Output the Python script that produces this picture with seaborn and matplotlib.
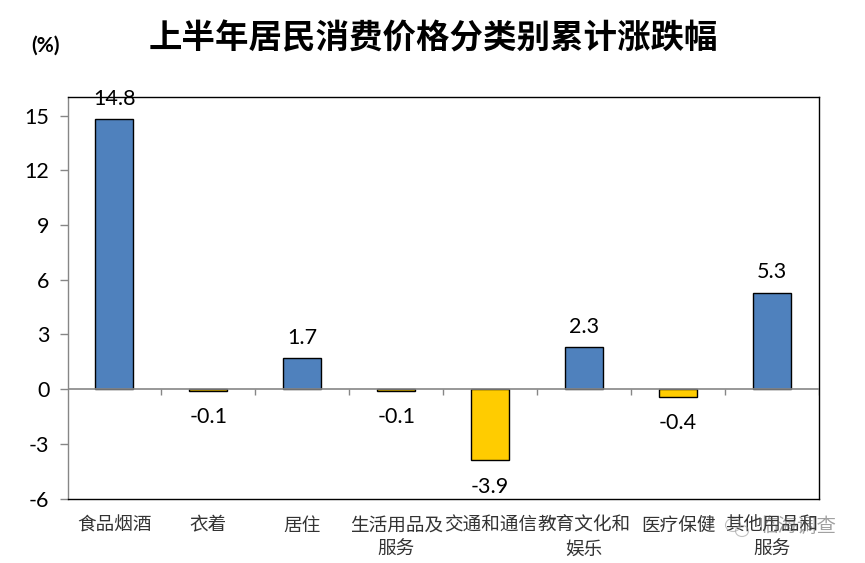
import pandas as pd
import seaborn as sns
import matplotlib.pyplot as plt
from matplotlib.patches import Ellipse

categories = ["食品烟酒", "衣着", "居住", "生活用品及\n服务", "交通和通信", "教育文化和\n娱乐", "医疗保健", "其他用品和\n服务"]
values = [14.8, -0.1, 1.7, -0.1, -3.9, 2.3, -0.4, 5.3]
yticks = [-6, -3, 0, 3, 6, 9, 12, 15]
title = "上半年居民消费价格分类别累计涨跌幅"
watermark = "临海调查"

sns.set_theme(style="white")
plt.rcParams['font.family'] = ['Noto Sans CJK SC', 'DejaVu Sans']
plt.rcParams['axes.unicode_minus'] = False
num_font = ['Lato', 'DejaVu Sans']

df = pd.DataFrame({"category": categories, "value": values})
df["sign"] = ["up" if v > 0 else "down" for v in values]

W, H = 865, 563
fig = plt.figure(figsize=(W / 100, H / 100), dpi=100)
ax = fig.add_axes([67.5 / W, 1 - 498.7 / H, (819 - 67.5) / W, (498.7 - 97.3) / H])

sns.barplot(data=df, x="category", y="value", hue="sign", hue_order=["up", "down"],
            palette={"up": "#4F81BD", "down": "#FFCC00"}, saturation=1, dodge=False, width=0.405,
            edgecolor="black", linewidth=1, legend=False, ax=ax, zorder=2)

ax.set_xlim(-0.5, 7.5)
ax.set_ylim(-6, 16)
ax.set_xlabel("")
ax.set_ylabel("")
ax.set_yticks(yticks)
ax.set_yticklabels([str(t) for t in yticks], fontsize=15.5, color="black", family=num_font)
ax.tick_params(axis="y", length=6, width=1, color="#868686", pad=7, left=True)

# tick marks sit on the zero line between the groups
ax.set_xticks(range(len(categories)))
ax.set_xticklabels(categories, fontsize=13.4, color="#333333", linespacing=1.45, va="top")
ax.tick_params(axis="x", length=0, pad=13)
ax.vlines([i + 0.5 for i in range(8)], -0.3, 0, color="#868686", lw=1, zorder=1)
ax.axhline(0, color="#868686", lw=1.2, zorder=3)

ax.spines["left"].set_color("#868686")
for s in ["top", "bottom", "right"]:
    ax.spines[s].set_color("black")
for s in ax.spines.values():
    s.set_linewidth(1)

for i, v in enumerate(values):
    off = 0.58 if v > 0 else -0.9
    ax.text(i, v + off, f"{v}", ha="center", va="bottom" if v > 0 else "top", fontsize=15.5,
            color="black", zorder=1, family=num_font)

fig.text(433.5 / W, 1 - 39 / H, title, ha="center", va="center", fontsize=24.1, fontweight="bold", color="black")
fig.text(45 / W, 1 - 46 / H, "(%)", ha="center", va="center", fontsize=15, fontweight="bold", color="black", family=num_font)

# faint account watermark over the last label
fig.text(797 / W, 1 - 526 / H, watermark, ha="center", va="center", fontsize=14, color="#555555", alpha=0.55)
fig.add_artist(Ellipse((733 / W, 1 - 525 / H), 15 / W, 13 / H, transform=fig.transFigure,
                       fill=False, edgecolor="#999999", lw=0.8, alpha=0.6))
fig.add_artist(Ellipse((742 / W, 1 - 531 / H), 13 / W, 11 / H, transform=fig.transFigure,
                       fill=False, edgecolor="#999999", lw=0.8, alpha=0.6))

plt.savefig("out.png", dpi=100)
